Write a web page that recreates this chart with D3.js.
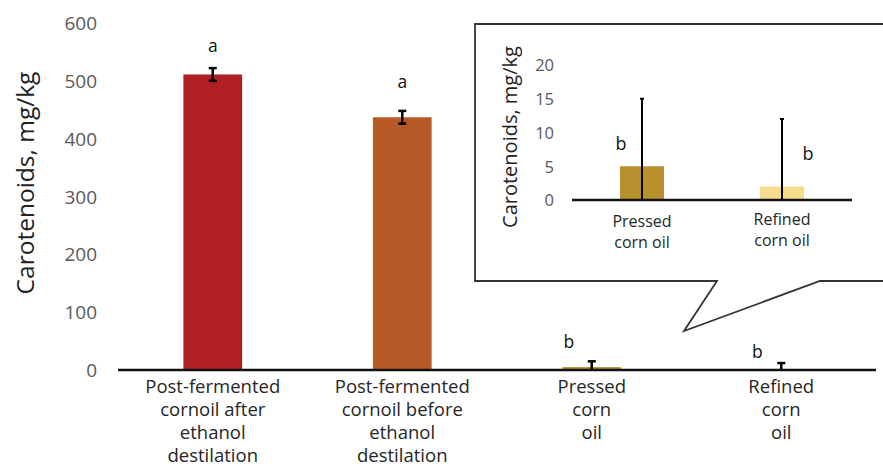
<!DOCTYPE html>
<html>
<head>
<meta charset="utf-8">
<script src="https://cdn.jsdelivr.net/npm/d3@7/dist/d3.min.js"></script>
<style>
  html, body { margin: 0; padding: 0; background: #fff; }
  svg { display: block; font-family: "Open Sans", "Noto Sans", sans-serif; }
</style>
</head>
<body>
<svg id="chart" width="883" height="466"></svg>
<script>
// ---- Data ----
const categories = [
  ["Post-fermented", "cornoil after", "ethanol", "destilation"],
  ["Post-fermented", "cornoil before", "ethanol", "destilation"],
  ["Pressed", "corn", "oil"],
  ["Refined", "corn", "oil"]
];
const values = [511, 437, 5, 2];
const errors = [11, 11, 10, 10];
const letters = ["a", "a", "b", "b"];
const colors = ["#B01F24", "#B85A28", "#B8902E", "#F7DE8E"];
const yTicks = [0, 100, 200, 300, 400, 500, 600];

const insetCategories = [["Pressed", "corn oil"], ["Refined", "corn oil"]];
const insetValues = [5, 2];
const insetErrors = [10, 10];
const insetLetters = ["b", "b"];
const insetColors = ["#B8902E", "#F7DE8E"];
const insetTicks = [0, 5, 10, 15, 20];

// ---- Layout ----
const svg = d3.select("#chart");

// Main chart
const x = d3.scaleBand().domain(d3.range(categories.length)).range([118, 876]).padding(0);
const y = d3.scaleLinear().domain([0, 600]).range([370, 23]);
const barW = x.bandwidth() * 0.31;

const yAxis = d3.axisLeft(y).tickValues(yTicks).tickSize(0).tickPadding(21);
const gy = svg.append("g").attr("transform", "translate(118,0)").call(yAxis);
gy.select(".domain").remove();
gy.selectAll("text").attr("fill", "#595959").style("font-size", "19px")
  .style("font-family", "'Open Sans', sans-serif").attr("dy", "0.35em");

svg.append("text")
  .attr("transform", "translate(34,183) rotate(-90)")
  .attr("text-anchor", "middle")
  .attr("fill", "#222")
  .style("font-size", "24.5px")
  .text("Carotenoids, mg/kg");

// bars
svg.selectAll("rect.bar").data(values).join("rect")
  .attr("class", "bar")
  .attr("x", (d, i) => x(i) + x.bandwidth() / 2 - barW / 2)
  .attr("width", barW)
  .attr("y", d => y(d))
  .attr("height", d => y(0) - y(d))
  .attr("fill", (d, i) => colors[i]);

// error bars
const errG = svg.append("g").attr("stroke", "#000").attr("stroke-width", 2.5);
values.forEach((v, i) => {
  const cx = x(i) + x.bandwidth() / 2;
  const top = y(v + errors[i]);
  const bot = y(Math.max(0, v - errors[i]));
  errG.append("line").attr("x1", cx).attr("x2", cx).attr("y1", top).attr("y2", bot);
  errG.append("line").attr("x1", cx - 4).attr("x2", cx + 4).attr("y1", top).attr("y2", top);
  if (v - errors[i] > 0)
    errG.append("line").attr("x1", cx - 4).attr("x2", cx + 4).attr("y1", bot).attr("y2", bot);
});

// significance letters
const letterDX = [0, 0, -23, -24];
const letterDY = [-22, -29, -19, -11];
letters.forEach((l, i) => {
  const cx = x(i) + x.bandwidth() / 2;
  svg.append("text")
    .attr("x", cx + letterDX[i])
    .attr("y", y(values[i] + errors[i]) + letterDY[i])
    .attr("dy", "0.35em")
    .attr("text-anchor", "middle")
    .attr("fill", "#111")
    .style("font-size", "17.5px")
    .text(l);
});

// x axis line
svg.append("line").attr("x1", 118).attr("x2", 876).attr("y1", y(0)).attr("y2", y(0))
  .attr("stroke", "#111").attr("stroke-width", 2.5);

// category labels
categories.forEach((lines, i) => {
  const t = svg.append("text")
    .attr("text-anchor", "middle")
    .attr("fill", "#262626")
    .style("font-size", "18.5px");
  lines.forEach((ln, j) => {
    t.append("tspan").attr("x", x(i) + x.bandwidth() / 2).attr("y", 393 + j * 23).text(ln);
  });
});

// ---- Callout box ----
svg.append("path")
  .attr("d", "M475,24 L890,24 L890,281 L820,281 L684,331 L717,281 L475,281 Z")
  .attr("fill", "#fff")
  .attr("stroke", "#333")
  .attr("stroke-width", 1.8);

// ---- Inset chart ----
const xi = d3.scaleBand().domain(d3.range(insetCategories.length)).range([572, 852]).padding(0);
const yi = d3.scaleLinear().domain([0, 20]).range([200, 65]);
const barWi = xi.bandwidth() * 0.314;

const yiAxis = d3.axisLeft(yi).tickValues(insetTicks).tickSize(0).tickPadding(18);
const gyi = svg.append("g").attr("transform", "translate(572,0)").call(yiAxis);
gyi.select(".domain").remove();
gyi.selectAll("text").attr("fill", "#595959").style("font-size", "16.5px")
  .style("font-family", "'Open Sans', sans-serif").attr("dy", "0.35em");

svg.append("text")
  .attr("transform", "translate(517,137) rotate(-90)")
  .attr("text-anchor", "middle")
  .attr("fill", "#222")
  .style("font-size", "20px")
  .text("Carotenoids, mg/kg");

svg.selectAll("rect.ibar").data(insetValues).join("rect")
  .attr("class", "ibar")
  .attr("x", (d, i) => xi(i) + xi.bandwidth() / 2 - barWi / 2)
  .attr("width", barWi)
  .attr("y", d => yi(d))
  .attr("height", d => yi(0) - yi(d))
  .attr("fill", (d, i) => insetColors[i]);

const errGi = svg.append("g").attr("stroke", "#000").attr("stroke-width", 2);
insetValues.forEach((v, i) => {
  const cx = xi(i) + xi.bandwidth() / 2;
  const top = yi(v + insetErrors[i]);
  const bot = yi(Math.max(0, v - insetErrors[i]));
  errGi.append("line").attr("x1", cx).attr("x2", cx).attr("y1", top).attr("y2", bot);
  errGi.append("line").attr("x1", cx - 2).attr("x2", cx + 2).attr("y1", top).attr("y2", top);
});

const iLetterDX = [-21, 26];
const iLetterVal = [8.3, 6.8];
insetLetters.forEach((l, i) => {
  svg.append("text")
    .attr("x", xi(i) + xi.bandwidth() / 2 + iLetterDX[i])
    .attr("y", yi(iLetterVal[i]))
    .attr("dy", "0.35em")
    .attr("text-anchor", "middle")
    .attr("fill", "#111")
    .style("font-size", "18px")
    .text(l);
});

svg.append("line").attr("x1", 572).attr("x2", 852).attr("y1", yi(0)).attr("y2", yi(0))
  .attr("stroke", "#111").attr("stroke-width", 2.5);

const iLabelY = [227, 225];
insetCategories.forEach((lines, i) => {
  const t = svg.append("text")
    .attr("text-anchor", "middle")
    .attr("fill", "#262626")
    .style("font-size", "16px");
  lines.forEach((ln, j) => {
    t.append("tspan").attr("x", xi(i) + xi.bandwidth() / 2).attr("y", iLabelY[i] + j * 20.5).text(ln);
  });
});
</script>
</body>
</html>
